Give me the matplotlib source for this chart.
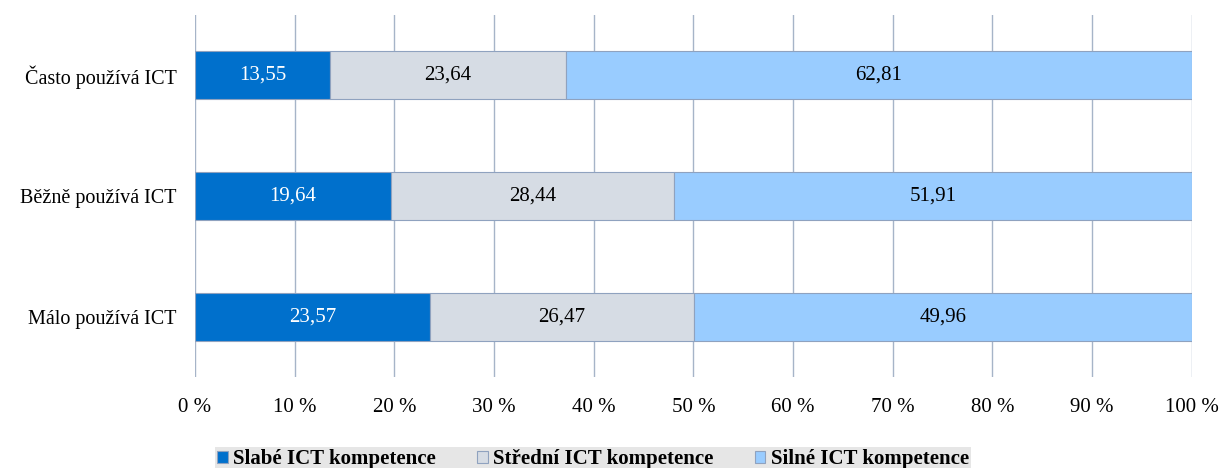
import matplotlib.pyplot as plt
import numpy as np

categories = ["Málo používá ICT", "Běžně používá ICT", "Často používá ICT"]
series_names = ["Slabé ICT kompetence", "Střední ICT kompetence", "Silné ICT kompetence"]
slabe = [23.57, 19.64, 13.55]
stredni = [26.47, 28.44, 23.64]
silne = [49.96, 51.91, 62.81]
colors = ["#0070CC", "#D6DCE4", "#99CCFF"]
text_colors = ["white", "black", "black"]
x_ticks = list(range(0, 101, 10))

plt.rcParams["font.family"] = ["Liberation Serif", "DejaVu Serif"]

fig = plt.figure(figsize=(12.2, 4.68), dpi=100)
ax = fig.add_axes([0.1598, 0.1944, 0.817, 0.774])

y = np.arange(len(categories))
left = np.zeros(len(categories))
for values, name, color, tc in zip([slabe, stredni, silne], series_names, colors, text_colors):
    bars = ax.barh(y, values, left=left, height=0.4, color=color, edgecolor="#8FA2BF",
                   linewidth=0.8, label=name, zorder=3)
    for b, v in zip(bars, values):
        ax.text(b.get_x() + b.get_width() / 2, b.get_y() + b.get_height() / 2,
                f"{v:.2f}".replace(".", ","), ha="center", va="center",
                color=tc, fontsize=15, zorder=4)
    left += np.array(values)

ax.set_xlim(0, 100)
ax.set_ylim(-0.5, 2.5)
ax.set_xticks(x_ticks)
ax.set_xticklabels([f"{t} %" for t in x_ticks], fontsize=15)
ax.set_yticks(y)
ax.set_yticklabels(categories, fontsize=14.5)
ax.tick_params(axis="x", length=0, pad=15)
ax.tick_params(axis="y", length=0, pad=13)
ax.grid(axis="x", color="#A6B4C8", linewidth=1, zorder=0)
for s in ax.spines.values():
    s.set_visible(False)

leg = fig.legend(loc="lower center", bbox_to_anchor=(0.486, -0.008), ncol=3,
                 frameon=True, fancybox=False, facecolor="#E6E6E6", edgecolor="none",
                 prop={"weight": "bold", "size": 15}, handlelength=0.5, handleheight=0.5,
                 handletextpad=0.25, columnspacing=2.0, borderpad=0.12, borderaxespad=0)
leg.get_frame().set_alpha(1)

fig.savefig("out.png", dpi=100)
